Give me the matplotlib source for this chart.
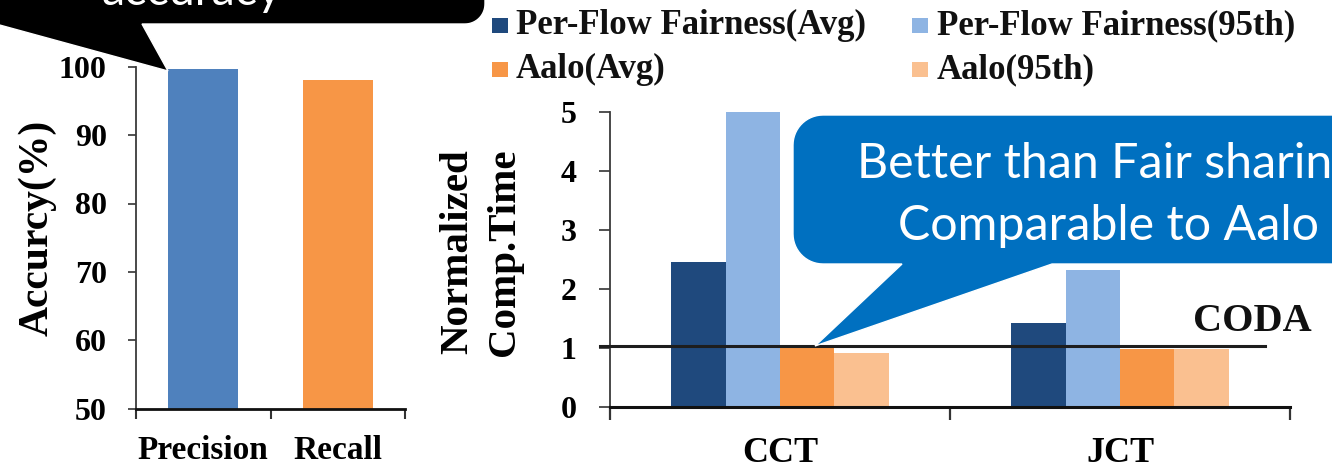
import numpy as np
import matplotlib
matplotlib.use("Agg")
import matplotlib.pyplot as plt
from matplotlib.patches import Polygon, Rectangle

# ---- data -------------------------------------------------------------
acc_categories = ["Precision", "Recall"]
acc_values = [99.6, 98.0]
acc_ticks = [50, 60, 70, 80, 90, 100]

time_categories = ["CCT", "JCT"]
series_names = ["Per-Flow Fairness(Avg)", "Per-Flow Fairness(95th)",
                "Aalo(Avg)", "Aalo(95th)"]
pff_avg = [2.46, 1.42]
pff_95th = [5.0, 2.33]
aalo_avg = [1.0, 0.98]
aalo_95th = [0.92, 0.98]
coda_level = 1.03
time_ticks = [0, 1, 2, 3, 4, 5]

# ---- styling ----------------------------------------------------------
W, H, DPI = 1332, 466, 100
acc_colors = ["#4F81BD", "#F79646"]
series_colors = ["#1F497D", "#8EB4E3", "#F79646", "#FAC090"]
SERIF = "Liberation Serif"
SANS = "Lato"

plt.rcParams["font.family"] = SERIF
plt.rcParams["font.weight"] = "bold"
plt.rcParams["axes.labelweight"] = "bold"

fig = plt.figure(figsize=(W / DPI, H / DPI), dpi=DPI)
fig.patch.set_facecolor("white")


def px_axes(x0, y_top, x1, y_bot, **kw):
    return fig.add_axes([x0 / W, 1 - y_bot / H, (x1 - x0) / W, (y_bot - y_top) / H], **kw)


def style_spines(ax, ylw, xlw):
    for s in ("top", "right"):
        ax.spines[s].set_visible(False)
    ax.spines["left"].set_linewidth(ylw)
    ax.spines["left"].set_color("#3a3a3a")
    ax.spines["bottom"].set_linewidth(xlw)
    ax.spines["bottom"].set_color("#111111")


# ---- left panel: accuracy ----------------------------------------------
ax1 = px_axes(136, 66.5, 405, 409)
x1 = np.arange(len(acc_categories))
ax1.bar(x1, acc_values, width=0.52, color=acc_colors, zorder=2)
ax1.set_xlim(-0.5, 1.5)
ax1.set_ylim(acc_ticks[0], acc_ticks[-1])
ax1.set_yticks(acc_ticks)
ax1.set_xticks([-0.5, 0.5, 1.5])
ax1.set_xticklabels([])
ax1.set_xticks(x1, minor=True)
ax1.set_xticklabels(acc_categories, minor=True)
ax1.tick_params(axis="x", which="minor", length=0, pad=19, labelsize=24)
ax1.tick_params(axis="x", which="major", length=7, width=1.5, color="#333333")
ax1.tick_params(axis="y", length=6, width=1.2, pad=15, labelsize=23, color="#333333")
style_spines(ax1, 1.3, 2.0)
ax1.set_ylabel("Accurcy(%)", fontsize=30, va="center")
ax1.yaxis.set_label_coords((37 - 136) / 269, (409 - 228) / 342.5)

# ---- right panel: normalized completion time --------------------------
ax2 = px_axes(610, 112, 1290, 407)
x2 = np.arange(len(time_categories))
bw = 0.16
series = [pff_avg, pff_95th, aalo_avg, aalo_95th]
for i, (vals, col) in enumerate(zip(series, series_colors)):
    ax2.bar(x2 + (i - 1.5) * bw, vals, width=bw, color=col, zorder=2)
ax2.set_xlim(-0.5, 1.5)
ax2.set_ylim(time_ticks[0], time_ticks[-1])
ax2.set_yticks(time_ticks)
ax2.set_xticks([-0.5, 0.5, 1.5])
ax2.set_xticklabels([])
ax2.set_xticks(x2, minor=True)
ax2.set_xticklabels(time_categories, minor=True)
ax2.tick_params(axis="x", which="minor", length=0, pad=21.5, labelsize=26)
ax2.tick_params(axis="x", which="major", length=9, width=1.6, color="#333333")
ax2.tick_params(axis="y", length=8, width=1.2, pad=16, labelsize=23, color="#333333")
style_spines(ax2, 1.3, 2.2)
ax2.set_ylabel("Normalized\nComp.Time", fontsize=29.5, va="center", linespacing=1.35)
ax2.yaxis.set_label_coords((481 - 610) / 680, (407 - 252) / 295)

# CODA reference line
ax2.plot([-0.015, 0.963], [coda_level, coda_level], transform=ax2.get_yaxis_transform(),
         color="#1e1e1e", lw=2.2, clip_on=False, zorder=4)

# ---- overlay in pixel coordinates ---------------------------------------
ov = fig.add_axes([0, 0, 1, 1], zorder=10)
ov.set_xlim(0, W)
ov.set_ylim(H, 0)
ov.axis("off")
ov.patch.set_visible(False)

ov.text(1252, 331, "CODA", fontsize=29, ha="center", va="baseline", family=SERIF,
        weight="bold", color="#111111")

# legend
leg_cols_sq = [492, 912]
leg_cols_tx = [516, 937]
leg_rows = [34, 78]
for k, (name, col) in enumerate(zip(series_names, series_colors)):
    r, c = divmod(k, 2)
    ov.add_patch(Rectangle((leg_cols_sq[c], leg_rows[r] - 16), 16, 15, color=col, lw=0))
    ov.text(leg_cols_tx[c], leg_rows[r], name, fontsize=25, ha="left", va="baseline",
            family=SERIF, weight="bold", color="#111111")


def callout(x0, y0, x1, y1, r, base_right, base_left, tip):
    def arc(cx, cy, a0, a1):
        t = np.radians(np.linspace(a0, a1, 16))
        return np.column_stack([cx + r * np.cos(t), cy + r * np.sin(t)])
    return np.vstack([
        arc(x0 + r, y0 + r, 180, 270),
        arc(x1 - r, y0 + r, 270, 360),
        arc(x1 - r, y1 - r, 0, 90),
        np.array([[base_right, y1], tip, [base_left, y1]]),
        arc(x0 + r, y1 - r, 90, 180),
    ])


# black speech bubble (top-left)
ov.add_patch(Polygon(callout(-300, -300, 485, 24, 20, 142, -4, (168, 71)),
                     closed=True, facecolor="black", edgecolor="white", lw=1, zorder=5))
# blue speech bubble
ov.add_patch(Polygon(callout(793, 115, 1420, 264, 30, 1052, 902, (815, 346)),
                     closed=True, facecolor="#0070C0", edgecolor="white", lw=1, zorder=5))

renderer = fig.canvas.get_renderer()


def fit_width(txt, target):
    bb = txt.get_window_extent(renderer=renderer)
    txt.set_fontsize(txt.get_fontsize() * target / bb.width)


t_acc = ov.text(192, 5, "accuracy", fontsize=36, ha="center", va="baseline",
                family=SANS, weight="normal", color="white", zorder=6)
fit_width(t_acc, 180)

t1 = ov.text(1107, 178, "Better than Fair sharing", fontsize=36, ha="center",
             va="baseline", family=SANS, weight="normal", color="white", zorder=6)
t2 = ov.text(1108, 240, "Comparable to Aalo", fontsize=36, ha="center",
             va="baseline", family=SANS, weight="normal", color="white", zorder=6)
fit_width(t2, 422)
t1.set_fontsize(t2.get_fontsize())

fig.savefig("out.png", dpi=DPI)
